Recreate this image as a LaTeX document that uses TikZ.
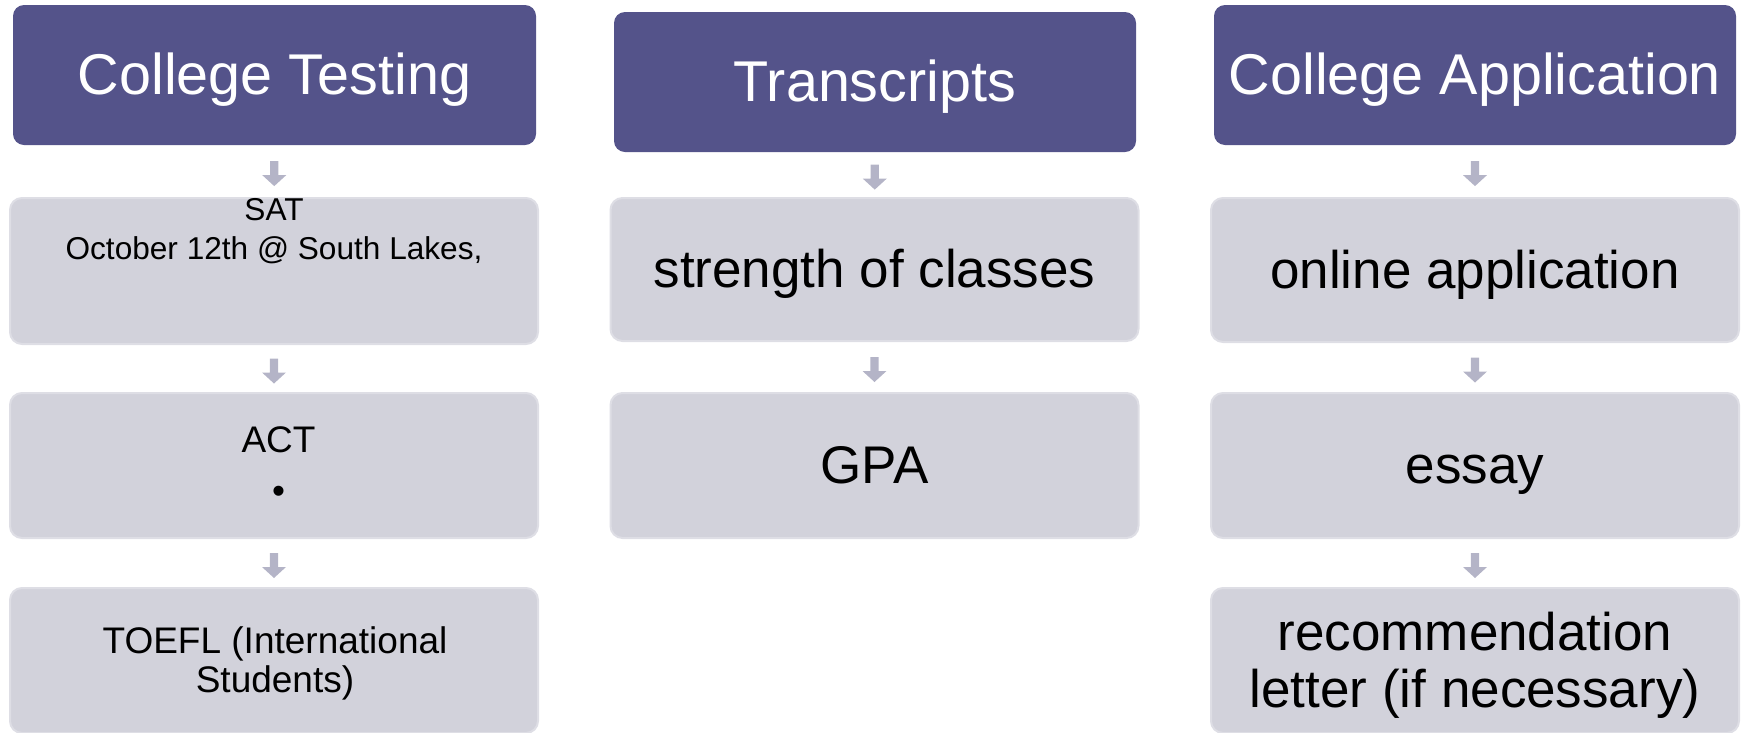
\documentclass[tikz,border=0pt]{standalone}
\usepackage{fontspec}
\setmainfont{Liberation Sans}
\usetikzlibrary{calc}
\definecolor{hdr}{RGB}{84,83,138}
\definecolor{lbox}{RGB}{210,210,219}
\definecolor{lline}{RGB}{222,222,229}
\definecolor{arr}{RGB}{180,180,199}
\newcommand\fhdr{\fontsize{57.5pt}{69pt}\selectfont}
\newcommand\fbig{\fontsize{53pt}{57pt}\selectfont}
\newcommand\fmid{\fontsize{37pt}{39pt}\selectfont}
\newcommand\fsml{\fontsize{31.6pt}{39pt}\selectfont}
\newcommand\blockarrow[2]{%
  \path ($(#1.south)!0.5!(#2.north)$) coordinate (m);
  \fill[arr] ($(m)+(-4.2,-10)$) -- ++(8.4,0) -- ++(0,14) -- ++(7.8,0) -- ++(-12,11) -- ++(-12,-11) -- ++(7.8,0) -- cycle;
}
\tikzset{
  hdrbox/.style={rectangle, rounded corners=11pt, fill=hdr, text=white, inner sep=0pt,
    minimum width=522pt, minimum height=140pt, font=\fhdr, text height=52pt, text depth=12.2pt},
  subbox/.style={rectangle, rounded corners=12pt, fill=lbox, draw=lline, line width=2pt, inner sep=0pt,
    minimum width=528pt, minimum height=145pt, font=\fbig, text height=48pt, text depth=11.2pt},
  txt/.style={inner sep=0pt, anchor=base}
}
\begin{document}
\begin{tikzpicture}[x=1pt, y=-1pt]
\useasboundingbox (0,0) rectangle (1743,732);
% headers
\node[hdrbox, minimum width=523pt] (h1) at (274.5,75) {College Testing};
\node[hdrbox] (h2) at (875,82) {Transcripts};
\node[hdrbox] (h3) at (1475,75) {College Application};
% column 1
\node[subbox, minimum height=146pt] (sat) at (274,271) {};
\node[subbox] (act) at (274,465.5) {};
\node[subbox] (toefl) at (274,660.5) {};
% column 2
\node[subbox, minimum height=143pt] (str) at (874.5,269.5) {strength of classes};
\node[subbox] (gpa) at (874.5,465.5) {GPA};
% column 3
\node[subbox, minimum height=144pt] (onl) at (1475,270) {online application};
\node[subbox] (ess) at (1475,465.5) {essay};
\node[subbox] (rec) at (1475,660.5) {};
% multi-line texts
\node[txt, font=\fsml] (sattxt) at (274,220) {\begin{tabular}[t]{@{}c@{}}SAT\\October 12th @ South Lakes,\end{tabular}};
\node[txt] (acttxt) at (278.5,452) {\fontsize{37pt}{51pt}\selectfont\begin{tabular}[t]{@{}c@{}}ACT\\•\end{tabular}};
\node[txt, font=\fmid] (toefltxt) at (275,653) {\begin{tabular}[t]{@{}c@{}}TOEFL (International\\Students)\end{tabular}};
\node[txt, font=\fbig] (rectxt) at (1475,650) {\begin{tabular}[t]{@{}c@{}}recommendation\\letter (if necessary)\end{tabular}};
% arrows
\blockarrow{h1}{sat}
\blockarrow{sat}{act}
\blockarrow{act}{toefl}
\blockarrow{h2}{str}
\blockarrow{str}{gpa}
\blockarrow{h3}{onl}
\blockarrow{onl}{ess}
\blockarrow{ess}{rec}
\end{tikzpicture}
\end{document}
